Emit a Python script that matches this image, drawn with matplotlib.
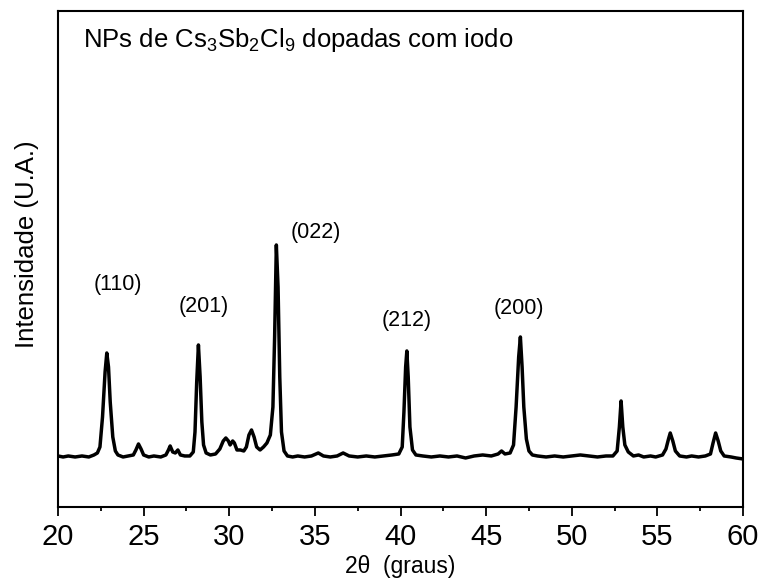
import matplotlib
matplotlib.use("Agg")
import matplotlib.pyplot as plt
from matplotlib.ticker import MultipleLocator

plt.rcParams['font.family'] = ['Liberation Sans', 'DejaVu Sans']
plt.rcParams['mathtext.fontset'] = 'custom'
plt.rcParams['mathtext.rm'] = 'Liberation Sans'
plt.rcParams['mathtext.it'] = 'Liberation Sans:italic'

# XRD pattern: 2theta (degrees) and intensity (arb.)
two_theta = [
    20.0, 20.3, 20.6, 21.0, 21.4, 21.8, 22.1, 22.3, 22.45, 22.6,
    22.75, 22.85, 22.95, 23.05, 23.2, 23.35, 23.5, 23.8, 24.1, 24.4,
    24.55, 24.7, 24.85, 25.0, 25.3, 25.6, 26.0, 26.3, 26.45, 26.55,
    26.7, 26.85, 27.0, 27.15, 27.4, 27.7, 27.9, 28.0, 28.1, 28.2,
    28.3, 28.4, 28.5, 28.65, 28.9, 29.2, 29.45, 29.65, 29.8, 29.95,
    30.05, 30.2, 30.3, 30.45, 30.65, 30.85, 31.0, 31.15, 31.3, 31.45,
    31.6, 31.8, 32.0, 32.2, 32.4, 32.55, 32.65, 32.75, 32.85, 32.95,
    33.05, 33.2, 33.4, 33.7, 34.0, 34.4, 34.8, 35.2, 35.5, 35.9,
    36.3, 36.65, 37.0, 37.5, 38.0, 38.5, 39.0, 39.5, 39.9, 40.1,
    40.2, 40.3, 40.37, 40.45, 40.55, 40.7, 40.9, 41.3, 41.8, 42.3,
    42.8, 43.3, 43.8, 44.3, 44.8, 45.3, 45.7, 45.9, 46.1, 46.4,
    46.6, 46.75, 46.9, 47.0, 47.1, 47.2, 47.35, 47.5, 47.7, 48.0,
    48.5, 49.0, 49.5, 50.0, 50.5, 51.0, 51.5, 52.0, 52.4, 52.65,
    52.78, 52.88, 52.98, 53.1, 53.3, 53.6, 53.9, 54.2, 54.6, 54.9,
    55.3, 55.5, 55.65, 55.75, 55.9, 56.05, 56.3, 56.7, 57.0, 57.4,
    57.8, 58.1, 58.25, 58.4, 58.55, 58.7, 58.9, 59.3, 59.6, 60.0,
]
intensity = [
    51, 50, 51, 50, 51, 50, 52, 54, 60, 90,
    135, 154, 140, 105, 70, 56, 52, 50, 51, 52,
    57, 63, 58, 52, 50, 51, 50, 52, 57, 61,
    55, 54, 57, 52, 51, 51, 55, 75, 125, 162,
    130, 85, 62, 54, 52, 53, 58, 66, 69, 66,
    62, 66, 64, 57, 57, 56, 60, 72, 77, 70,
    60, 57, 60, 64, 72, 100, 170, 262, 220, 130,
    75, 56, 51, 50, 51, 50, 51, 54, 51, 50,
    51, 54, 51, 50, 51, 50, 51, 52, 53, 60,
    95, 140, 156, 130, 80, 57, 52, 51, 50, 51,
    50, 51, 49, 51, 52, 51, 53, 56, 53, 54,
    62, 100, 150, 170, 140, 100, 68, 56, 52, 51,
    50, 51, 50, 51, 52, 51, 50, 51, 51, 56,
    80, 106, 80, 62, 55, 51, 52, 50, 51, 50,
    52, 58, 68, 74, 66, 56, 51, 50, 51, 50,
    51, 53, 64, 74, 66, 56, 51, 50, 49, 48,
]

# Miller index labels and where they sit
hkl_labels = ['(110)', '(201)', '(022)', '(212)', '(200)']
hkl_x = [23.5, 28.53, 35.06, 40.36, 46.92]
hkl_y = [222, 200, 274, 186, 198]

fig = plt.figure(figsize=(7.66, 5.88), dpi=100)
ax = fig.add_axes([0.0757, 0.1378, 0.8943, 0.8435])

ax.plot(two_theta, intensity, color='black', lw=2.5)

for lab, xx, yy in zip(hkl_labels, hkl_x, hkl_y):
    ax.text(xx, yy, lab, ha='center', va='center', fontsize=15.5)

ax.text(0.036, 0.928, r'NPs de Cs$_\mathregular{3}$Sb$_\mathregular{2}$Cl$_\mathregular{9}$ dopadas com iodo',
        transform=ax.transAxes, ha='left', va='baseline', fontsize=18.5)

ax.set_xlim(20, 60)
ax.set_ylim(0, 496)
ax.xaxis.set_major_locator(MultipleLocator(5))
ax.xaxis.set_minor_locator(MultipleLocator(2.5))
ax.set_yticks([])
ax.tick_params(axis='x', which='major', direction='out', length=6.5, width=1.3,
               labelsize=21, pad=5)
ax.tick_params(axis='x', which='minor', direction='out', length=3.2, width=1.3)
for s in ax.spines.values():
    s.set_linewidth(1.5)

ax.set_xlabel('2θ  (graus)', fontsize=16.5, labelpad=3)
ax.set_ylabel('Intensidade (U.A.)', fontsize=18.5)
ax.yaxis.set_label_coords(-0.028, 0.53)

fig.savefig('out.png', dpi=100)
